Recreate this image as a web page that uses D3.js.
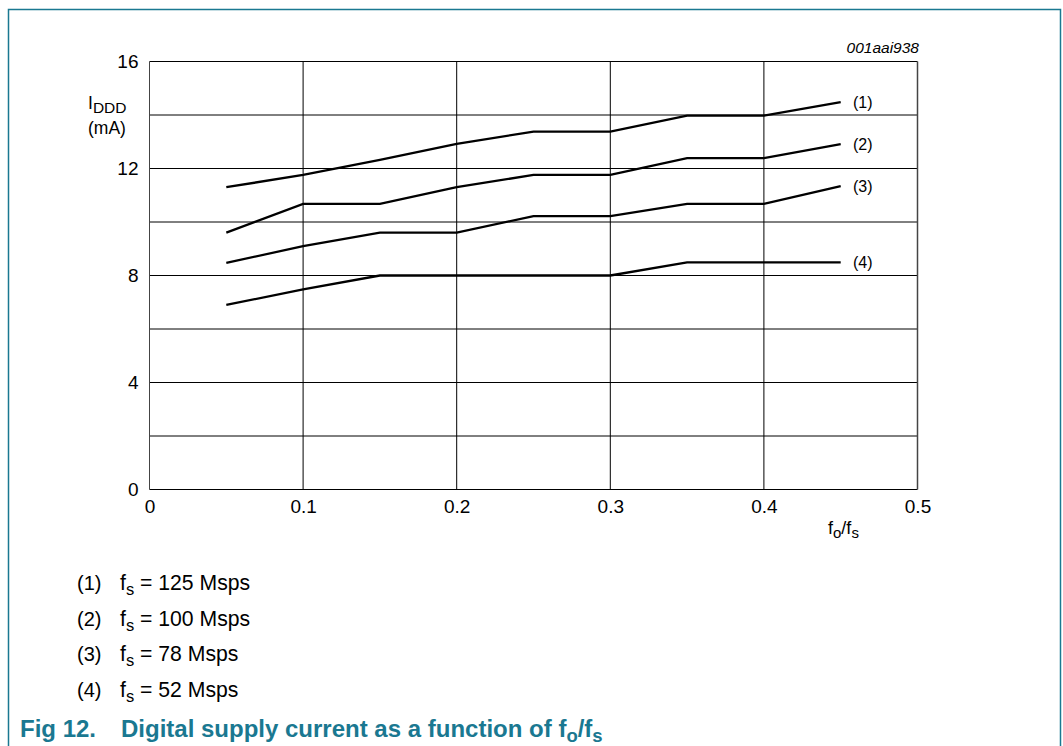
<!DOCTYPE html>
<html><head><meta charset="utf-8">
<script src="https://cdn.jsdelivr.net/npm/d3@7"></script>
<style>body{margin:0;background:#fff;}svg{display:block;font-family:"Liberation Sans",Arial,sans-serif;}</style>
</head><body><svg id="c" width="1063" height="746"></svg>
<script>
const xValues = [0.05, 0.1, 0.15, 0.2, 0.25, 0.3, 0.35, 0.4, 0.45];
const series1 = [11.3, 11.76, 12.32, 12.92, 13.38, 13.38, 13.98, 13.98, 14.48];
const series2 = [9.6, 10.68, 10.68, 11.3, 11.76, 11.76, 12.39, 12.39, 12.91];
const series3 = [8.47, 9.1, 9.6, 9.6, 10.22, 10.22, 10.68, 10.68, 11.34];
const series4 = [6.9, 7.48, 8.0, 8.0, 8.0, 8.0, 8.49, 8.49, 8.49];
const seriesLabels = ["(1)", "(2)", "(3)", "(4)"];
const legendRates = ["125", "100", "78", "52"];
const xTicks = [0, 0.1, 0.2, 0.3, 0.4, 0.5];
const yTicks = [0, 2, 4, 6, 8, 10, 12, 14, 16];
const yTickLabels = [0, 4, 8, 12, 16];

const svg = d3.select("#c");
const teal = "#1a7891";
svg.append("path").attr("d","M8.5,746 V9.5 H1060.5 V746").attr("fill","none").attr("stroke",teal).attr("stroke-width",1.5);

const x = d3.scaleLinear().domain([0,0.5]).range([149.5,917.5]);
const y = d3.scaleLinear().domain([0,16]).range([489.5,61.5]);

const g = svg.append("g");
g.selectAll(".hg").data(yTicks).join("line")
 .attr("x1",x(0)).attr("x2",x(0.5)).attr("y1",d=>y(d)).attr("y2",d=>y(d))
 .attr("stroke","#000").attr("stroke-width",1);
g.selectAll(".vg").data(xTicks).join("line")
 .attr("y1",y(0)).attr("y2",y(16)).attr("x1",d=>x(d)).attr("x2",d=>x(d))
 .attr("stroke",(d,i)=> (i===0||i===xTicks.length-1)?"#444":"#000").attr("stroke-width",(d,i)=> i===xTicks.length-1?1.5:1);

const yAxis = d3.axisLeft(y).tickValues(yTickLabels).tickSize(0).tickPadding(11).tickFormat(d3.format("d"));
const ya = svg.append("g").attr("transform",`translate(${x(0)},0)`).call(yAxis);
ya.select(".domain").remove();
ya.selectAll("text").attr("font-size",19).attr("font-family","Liberation Sans, Arial, sans-serif").attr("fill","#000");

const xAxis = d3.axisBottom(x).tickValues(xTicks).tickSize(0).tickPadding(10).tickFormat(d=>d===0?"0":d3.format(".1f")(d));
const xa = svg.append("g").attr("transform",`translate(0,${y(0)})`).call(xAxis);
xa.select(".domain").remove();
xa.selectAll("text").attr("font-size",19).attr("font-family","Liberation Sans, Arial, sans-serif").attr("fill","#000");

const yt = svg.append("text").attr("x",88).attr("y",109).attr("font-size",17.5);
yt.append("tspan").text("I");
yt.append("tspan").attr("font-size",15.5).attr("dy",4).text("DDD");
svg.append("text").attr("x",88).attr("y",134).attr("font-size",17.5).text("(mA)");
const xt = svg.append("text").attr("x",828).attr("y",534).attr("font-size",18);
xt.append("tspan").text("f");
xt.append("tspan").attr("font-size",15).attr("dy",4).text("o");
xt.append("tspan").attr("dy",-4).text("/f");
xt.append("tspan").attr("font-size",15).attr("dy",4).text("s");

svg.append("text").attr("x",919).attr("y",53).attr("text-anchor","end").attr("font-size",15.5).attr("font-style","italic").text("001aai938");

const allSeries = [series1, series2, series3, series4];
const line = d3.line().x((d,i)=>x(xValues[i])).y(d=>y(d));
svg.selectAll(".s").data(allSeries).join("path")
 .attr("d",d=>line(d)).attr("fill","none").attr("stroke","#000").attr("stroke-width",2.3).attr("stroke-linejoin","miter");

allSeries.forEach((s,i)=>{
  const ty = y(s[s.length-1]);
  svg.append("rect").attr("x",846).attr("y",ty-11).attr("width",34).attr("height",22).attr("fill","#fff");
  svg.append("text").attr("x",853).attr("y",ty+5.5).attr("font-size",16).text(seriesLabels[i]);
});

const legY = [590, 626, 661, 697];
seriesLabels.forEach((lab,i)=>{
  svg.append("text").attr("x",77).attr("y",legY[i]).attr("font-size",20).text(lab);
  const t = svg.append("text").attr("x",120).attr("y",legY[i]).attr("font-size",21.2);
  t.append("tspan").text("f");
  t.append("tspan").attr("font-size",16.5).attr("dy",5).text("s");
  t.append("tspan").attr("dy",-5).text(" = " + legendRates[i] + " Msps");
});

const cap = svg.append("text").attr("y",737).attr("font-size",24).attr("font-weight","bold").attr("fill",teal);
cap.append("tspan").attr("x",20).text("Fig 12.");
cap.append("tspan").attr("x",121).text("Digital supply current as a function of f");
cap.append("tspan").attr("font-size",18.5).attr("dy",5).text("o");
cap.append("tspan").attr("dy",-5).text("/f");
cap.append("tspan").attr("font-size",18.5).attr("dy",5).text("s");
</script></body></html>
